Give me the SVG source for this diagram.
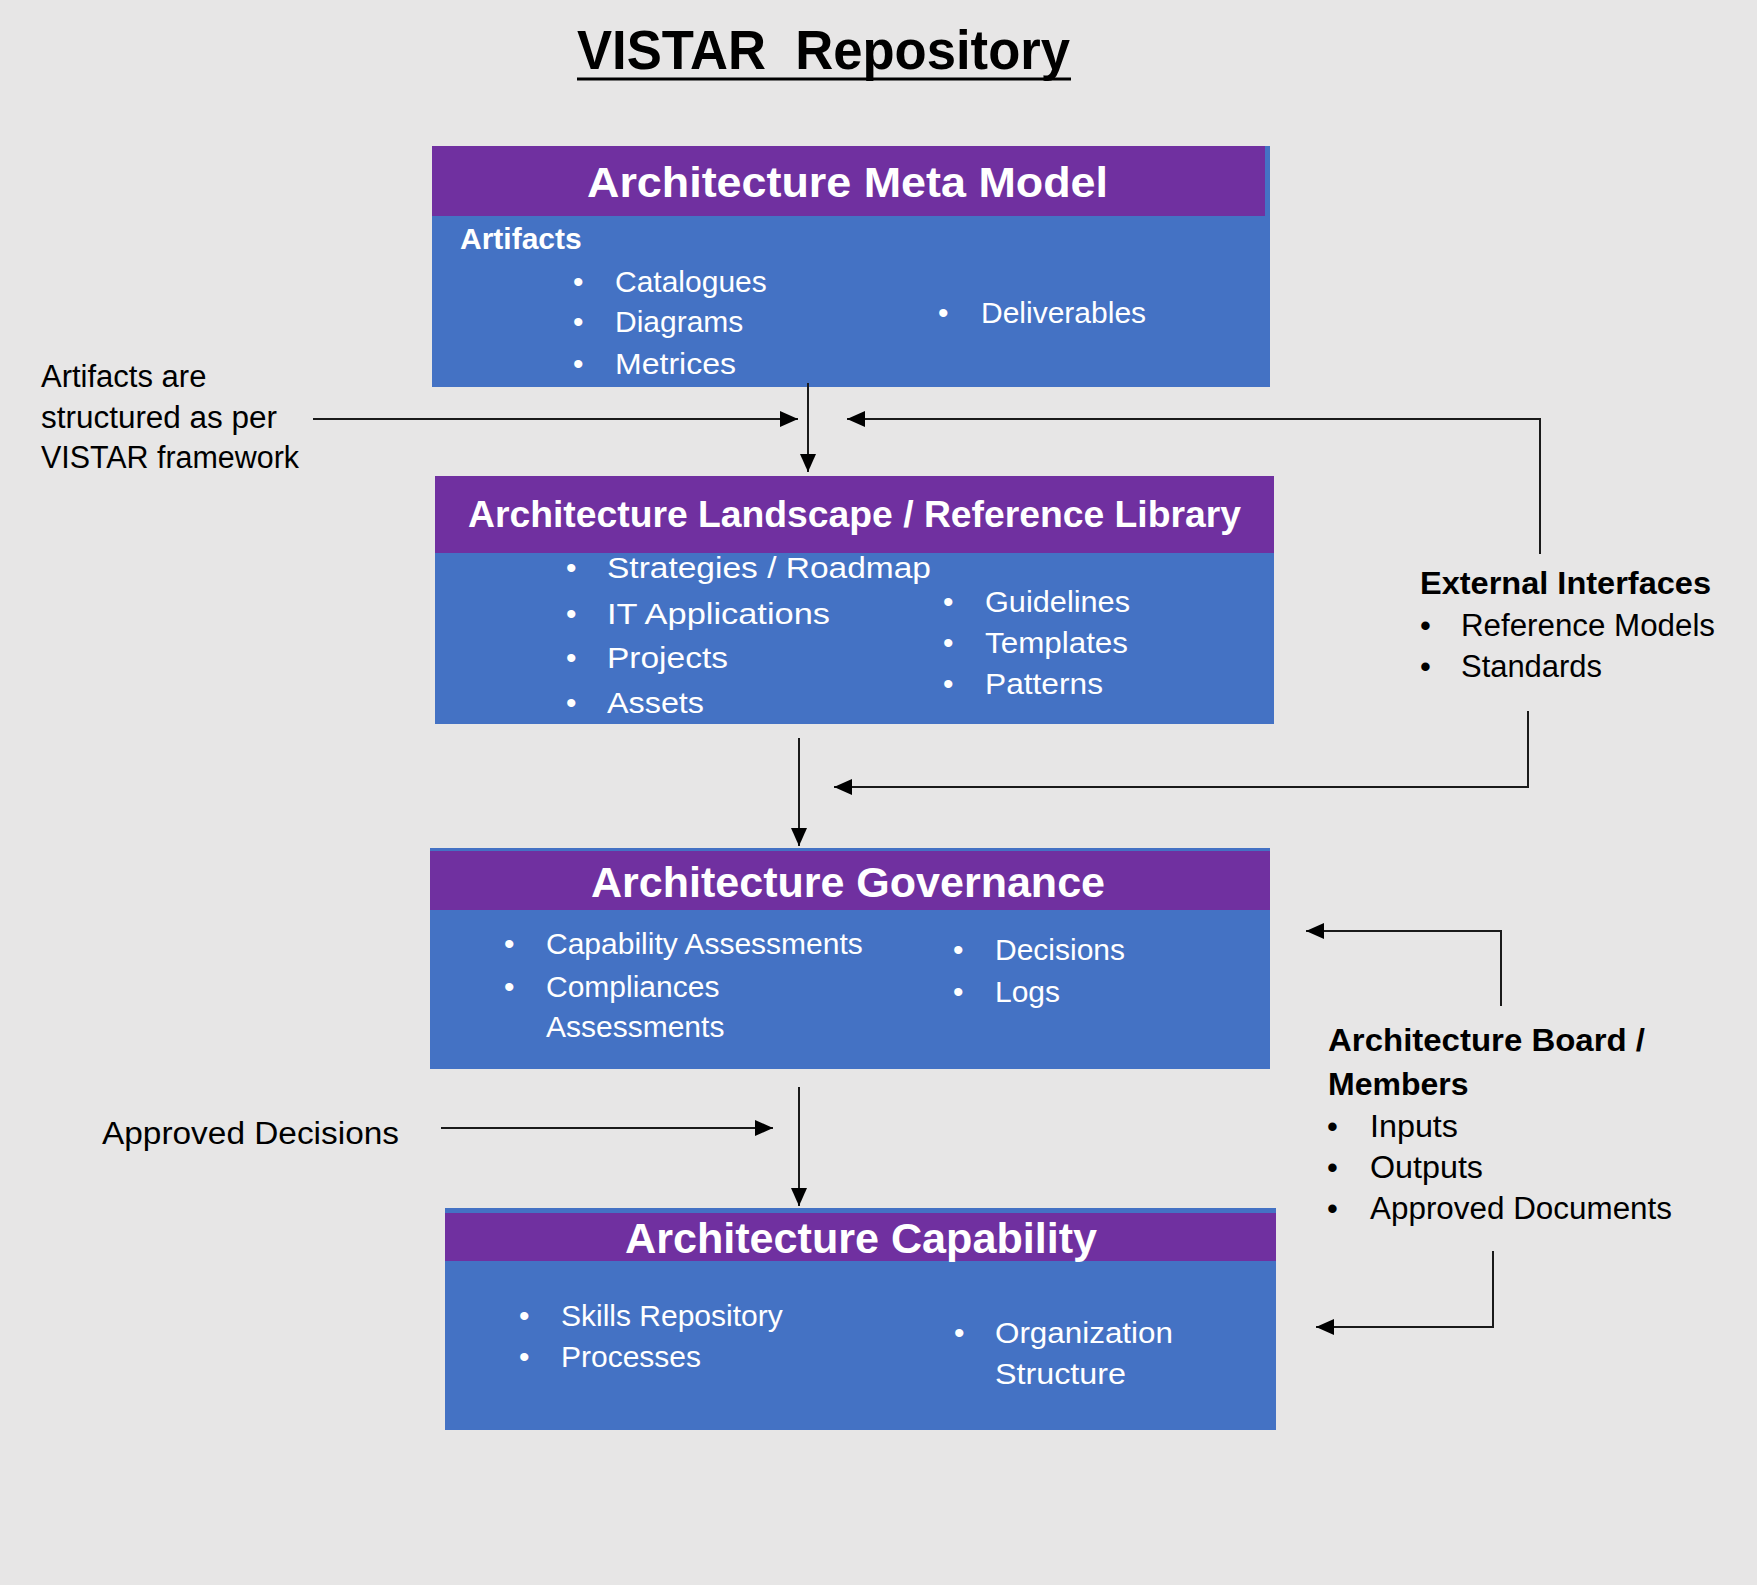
<svg xmlns="http://www.w3.org/2000/svg" width="1757" height="1585" viewBox="0 0 1757 1585">
<defs>
<style>
text{font-family:"Liberation Sans",Arial,sans-serif}
.title{font-size:56px;font-weight:bold;fill:#000}
.hdr{font-weight:bold;fill:#fff}
.item{font-size:30px;fill:#fff}
.sub{font-size:30px;font-weight:bold;fill:#fff}
.lbl{font-size:31px;fill:#000}
.lblb{font-size:32px;font-weight:bold;fill:#000}
.purple{fill:#7030A0}
.blue{fill:#4472C4}
.conn line,.conn polyline{stroke:#1a1a1a;stroke-width:2;fill:none}
</style>
<marker id="arr" markerUnits="userSpaceOnUse" markerWidth="18" markerHeight="16" refX="18" refY="8" orient="auto">
<path d="M0,0 L18,8 L0,16 z" fill="#000"/>
</marker>
</defs>
<rect x="0" y="0" width="1757" height="1585" fill="#E7E6E6"/>

<g id="title">
<text class="title" x="577" y="69" textLength="493" lengthAdjust="spacingAndGlyphs" xml:space="preserve">VISTAR  Repository</text>
<line x1="577" y1="79" x2="1071" y2="79" stroke="#000" stroke-width="3"/>
</g>

<g id="meta-model">
<rect class="blue" x="432" y="146" width="838" height="241"/>
<rect class="purple" x="432" y="146" width="833" height="70"/>
<text class="hdr" font-size="42" x="587" y="197" textLength="521" lengthAdjust="spacingAndGlyphs">Architecture Meta Model</text>
<text class="sub" x="460" y="249">Artifacts</text>
<text class="item"><tspan x="573" y="292">•</tspan><tspan x="615" y="292">Catalogues</tspan></text>
<text class="item"><tspan x="573" y="332">•</tspan><tspan x="615" y="332">Diagrams</tspan></text>
<text class="item"><tspan x="573" y="374">•</tspan><tspan x="615" y="374" textLength="121" lengthAdjust="spacingAndGlyphs">Metrices</tspan></text>
<text class="item"><tspan x="938" y="323">•</tspan><tspan x="981" y="323">Deliverables</tspan></text>
</g>

<g id="landscape">
<rect class="blue" x="435" y="476" width="839" height="248"/>
<rect class="purple" x="435" y="476" width="839" height="77"/>
<text class="hdr" font-size="37" x="468" y="527" textLength="773" lengthAdjust="spacingAndGlyphs">Architecture Landscape / Reference Library</text>
<text class="item" font-size="33"><tspan x="566" y="578">•</tspan><tspan x="607" y="578" textLength="324" lengthAdjust="spacingAndGlyphs">Strategies / Roadmap</tspan></text>
<text class="item" font-size="33"><tspan x="566" y="624">•</tspan><tspan x="607" y="624" textLength="223" lengthAdjust="spacingAndGlyphs">IT Applications</tspan></text>
<text class="item" font-size="33"><tspan x="566" y="668">•</tspan><tspan x="607" y="668" textLength="121" lengthAdjust="spacingAndGlyphs">Projects</tspan></text>
<text class="item" font-size="33"><tspan x="566" y="713">•</tspan><tspan x="607" y="713" textLength="97" lengthAdjust="spacingAndGlyphs">Assets</tspan></text>
<text class="item" font-size="31"><tspan x="943" y="612">•</tspan><tspan x="985" y="612" textLength="145" lengthAdjust="spacingAndGlyphs">Guidelines</tspan></text>
<text class="item" font-size="31"><tspan x="943" y="653">•</tspan><tspan x="985" y="653" textLength="143" lengthAdjust="spacingAndGlyphs">Templates</tspan></text>
<text class="item" font-size="31"><tspan x="943" y="694">•</tspan><tspan x="985" y="694" textLength="118" lengthAdjust="spacingAndGlyphs">Patterns</tspan></text>
</g>

<g id="governance">
<rect class="blue" x="430" y="848" width="840" height="221"/>
<rect class="purple" x="430" y="851" width="840" height="59"/>
<text class="hdr" font-size="42" x="591" y="897" textLength="514" lengthAdjust="spacingAndGlyphs">Architecture Governance</text>
<text class="item"><tspan x="504" y="954">•</tspan><tspan x="546" y="954">Capability Assessments</tspan></text>
<text class="item"><tspan x="504" y="997">•</tspan><tspan x="546" y="997">Compliances</tspan></text>
<text class="item"><tspan x="546" y="1037">Assessments</tspan></text>
<text class="item"><tspan x="953" y="960">•</tspan><tspan x="995" y="960">Decisions</tspan></text>
<text class="item"><tspan x="953" y="1002">•</tspan><tspan x="995" y="1002">Logs</tspan></text>
</g>

<g id="capability">
<rect class="blue" x="445" y="1208" width="831" height="222"/>
<rect class="purple" x="445" y="1213" width="831" height="48"/>
<text class="hdr" font-size="43" x="625" y="1253" textLength="472" lengthAdjust="spacingAndGlyphs">Architecture Capability</text>
<text class="item"><tspan x="519" y="1326">•</tspan><tspan x="561" y="1326">Skills Repository</tspan></text>
<text class="item"><tspan x="519" y="1367">•</tspan><tspan x="561" y="1367">Processes</tspan></text>
<text class="item" font-size="31"><tspan x="954" y="1343">•</tspan><tspan x="995" y="1343" textLength="178" lengthAdjust="spacingAndGlyphs">Organization</tspan></text>
<text class="item" font-size="31"><tspan x="995" y="1384" textLength="131" lengthAdjust="spacingAndGlyphs">Structure</tspan></text>
</g>

<g id="artifacts-note">
<text class="lbl"><tspan x="41" y="387">Artifacts are</tspan><tspan x="41" y="428" textLength="236" lengthAdjust="spacingAndGlyphs">structured as per</tspan><tspan x="41" y="468" textLength="258" lengthAdjust="spacingAndGlyphs">VISTAR framework</tspan></text>
</g>

<g id="external-interfaces">
<text class="lblb" x="1420" y="594" textLength="291" lengthAdjust="spacingAndGlyphs">External Interfaces</text>
<text class="lbl"><tspan x="1420" y="636">•</tspan><tspan x="1461" y="636" textLength="254" lengthAdjust="spacingAndGlyphs">Reference Models</tspan></text>
<text class="lbl"><tspan x="1420" y="677">•</tspan><tspan x="1461" y="677" textLength="141" lengthAdjust="spacingAndGlyphs">Standards</tspan></text>
</g>

<g id="approved-decisions">
<text class="lbl" font-size="33" x="102" y="1144" textLength="297" lengthAdjust="spacingAndGlyphs">Approved Decisions</text>
</g>

<g id="architecture-board">
<text class="lblb" x="1328" y="1051" textLength="317" lengthAdjust="spacingAndGlyphs">Architecture Board /</text>
<text class="lblb" x="1328" y="1095">Members</text>
<text class="lbl" font-size="32"><tspan x="1327" y="1137">•</tspan><tspan x="1370" y="1137" textLength="88" lengthAdjust="spacingAndGlyphs">Inputs</tspan></text>
<text class="lbl" font-size="32"><tspan x="1327" y="1178">•</tspan><tspan x="1370" y="1178" textLength="113" lengthAdjust="spacingAndGlyphs">Outputs</tspan></text>
<text class="lbl" font-size="32"><tspan x="1327" y="1219">•</tspan><tspan x="1370" y="1219" textLength="302" lengthAdjust="spacingAndGlyphs">Approved Documents</tspan></text>
</g>

<g id="connectors" class="conn">
<line x1="808" y1="383" x2="808" y2="472" marker-end="url(#arr)"/>
<line x1="313" y1="419" x2="798" y2="419" marker-end="url(#arr)"/>
<polyline points="1540,554 1540,419 847,419" marker-end="url(#arr)"/>
<line x1="799" y1="738" x2="799" y2="846" marker-end="url(#arr)"/>
<polyline points="1528,711 1528,787 834,787" marker-end="url(#arr)"/>
<polyline points="1501,1006 1501,931 1306,931" marker-end="url(#arr)"/>
<line x1="799" y1="1087" x2="799" y2="1206" marker-end="url(#arr)"/>
<line x1="441" y1="1128" x2="773" y2="1128" marker-end="url(#arr)"/>
<polyline points="1493,1251 1493,1327 1316,1327" marker-end="url(#arr)"/>
</g>
</svg>
